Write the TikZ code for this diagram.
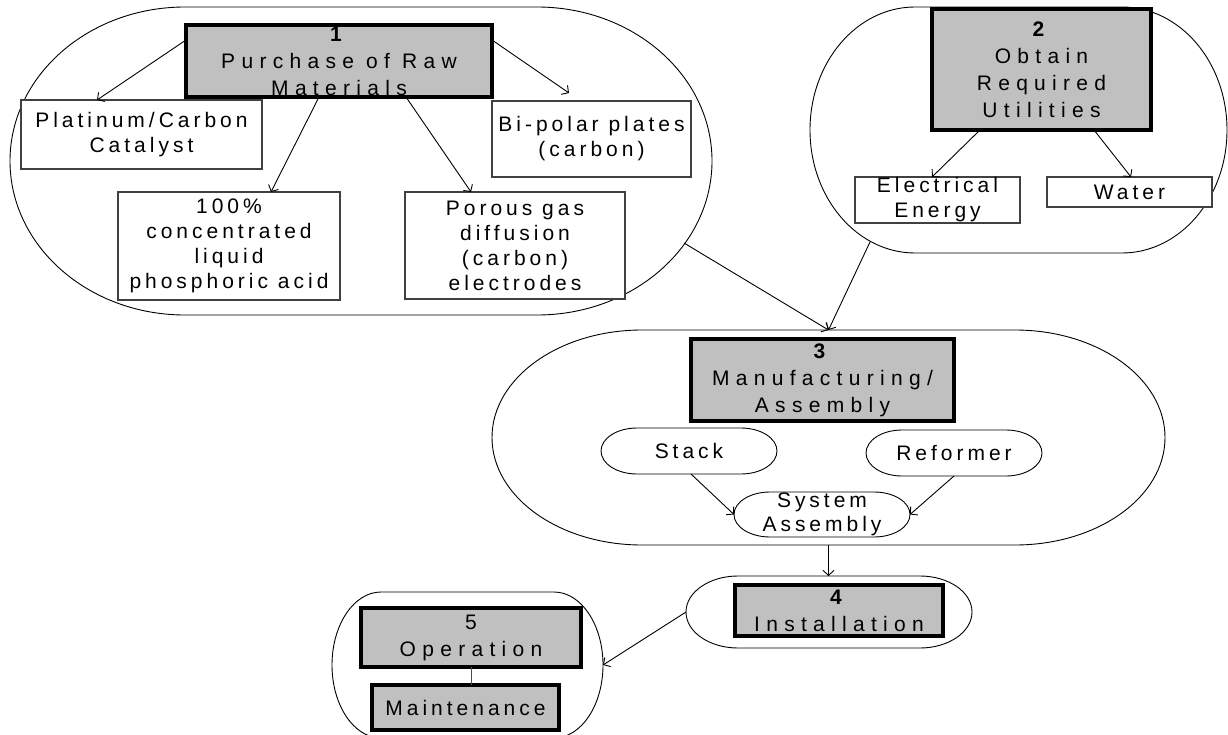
\documentclass[tikz,border=0pt]{standalone}
\usepackage{fontspec}
\setmainfont{Liberation Sans}
\newfontfamily\tracked{Liberation Sans}[LetterSpace=19]
\newfontfamily\widetracked{Liberation Sans}[LetterSpace=30]
\usetikzlibrary{arrows.meta}

\definecolor{boxgray}{HTML}{C0C0C0}

\tikzset{
  x=1pt, y=1pt,
  every node/.style={inner sep=0pt, outer sep=0pt},
  area/.style={rectangle},
  frame/.style={draw=black, line width=0.9pt},
  whitebox/.style={rectangle, draw=black!75, line width=1.2pt, fill=white,
    align=center, font=\tracked\fontsize{21}{25}\selectfont},
  graybox/.style={rectangle, draw=black, line width=4pt, fill=boxgray,
    align=center, font=\widetracked\fontsize{21}{27}\selectfont},
  pilltext/.style={rectangle, align=center, font=\tracked\fontsize{21}{24}\selectfont},
  link/.style={draw=black, line width=0.9pt, -{Straight Barb[length=5pt,width=11pt]}},
  plainlink/.style={draw=black!70, line width=1pt},
}

% outline with straight top/bottom and half-elliptic ends around a node
\newcommand\drawstadium[3]{%
  \draw[frame] ([xshift=#2pt]#1.north west) -- ([xshift=-#2pt]#1.north east)
    arc[start angle=90, end angle=-90, x radius=#2pt, y radius=#3pt]
    -- ([xshift=#2pt]#1.south west)
    arc[start angle=270, end angle=90, x radius=#2pt, y radius=#3pt] -- cycle;}

\begin{document}
\begin{tikzpicture}
\useasboundingbox (0,0) rectangle (1228,-735);

% ---- group areas ----
\node[area, minimum width=702pt, minimum height=308pt] (E1) at (361,-161) {};
\node[area, minimum width=417pt, minimum height=246pt] (E2) at (1018.5,-130) {};
\node[area, minimum width=673pt, minimum height=215pt] (E3) at (828.5,-437.5) {};
\node[area, minimum width=286pt, minimum height=72pt] (E4) at (829,-612) {};
\node[area, minimum width=271pt, minimum height=146pt] (E5) at (467.5,-665) {};
\drawstadium{E1}{175}{154}
\drawstadium{E2}{105}{123}
\drawstadium{E3}{150}{107.5}
\drawstadium{E4}{52}{36}
\drawstadium{E5}{49}{73}

% ---- 1: raw materials ----
\node[graybox, minimum width=306pt, minimum height=72pt] (B1) at (339,-61)
  {\textbf{1}\\Purchase of Raw\\Materials};
\node[whitebox, minimum width=241pt, minimum height=69pt] (Plat) at (141.5,-134.5)
  {Platinum/Carbon\\Catalyst};
\node[whitebox, minimum width=222pt, minimum height=108pt] (Acid) at (229,-246)
  {100\%\\concentrated\\liquid\\phosphoric acid};
\node[whitebox, minimum width=220pt, minimum height=107pt] (Porous) at (515,-245.5)
  {Porous gas\\diffusion\\(carbon)\\electrodes};
\node[whitebox, minimum width=199pt, minimum height=76pt] (Bipolar) at (591.5,-139)
  {Bi-polar plates\\(carbon)};

% ---- 2: utilities ----
\node[graybox, minimum width=219pt, minimum height=121pt] (B2) at (1041.5,-69.5)
  {\textbf{2}\\Obtain\\Required\\Utilities};
\node[whitebox, minimum width=165pt, minimum height=46pt] (Elec) at (937.5,-200)
  {Electrical\\Energy};
\node[whitebox, minimum width=165pt, minimum height=30pt] (Water) at (1129.5,-192)
  {Water};

% ---- 3: manufacturing ----
\node[graybox, minimum width=263pt, minimum height=82pt] (B3) at (822.5,-380)
  {\textbf{3}\\Manufacturing/\\Assembly};
\node[pilltext, minimum width=176pt, minimum height=46pt] (Stack) at (689,-451) {Stack};
\node[pilltext, minimum width=176pt, minimum height=46pt] (Reformer) at (954,-453) {Reformer};
\node[pilltext, minimum width=176pt, minimum height=45pt] (System) at (822,-514.5)
  {System\\Assembly};
\drawstadium{Stack}{36}{23}
\drawstadium{Reformer}{36}{23}
\drawstadium{System}{36}{22.5}

% ---- 4: installation ----
\node[graybox, minimum width=208pt, minimum height=51pt] (B4) at (839,-610.5)
  {\textbf{4}\\Installation};

% ---- 5: operation ----
\node[graybox, minimum width=220pt, minimum height=59pt] (B5) at (471,-637.5)
  {5\\Operation};
\node[graybox, font=\tracked\fontsize{21}{25}\selectfont,
  minimum width=187pt, minimum height=45pt] (Maint) at (465.5,-707.5) {Maintenance};

% ---- connectors ----
\draw[link] ([yshift=21pt]B1.west) -- ([xshift=-44.5pt]Plat.north);
\draw[link] ([xshift=-20pt]B1.south) -- ([xshift=42pt]Acid.north);
\draw[link] ([xshift=67pt]B1.south) -- ([xshift=-44pt]Porous.north);
\draw[link] ([yshift=21pt]B1.east) -- ([xshift=-22.5pt,yshift=8pt]Bipolar.north);

\draw[link] ([xshift=-61.5pt]B2.south) -- ([xshift=-5.5pt]Elec.north);
\draw[link] ([xshift=52.5pt]B2.south) -- ([xshift=1.5pt]Water.north);

\coordinate (E1out) at (684,-243);
\coordinate (E2out) at (870,-242);
\draw[link] (E1out) -- (E3.north);
\draw[link] (E2out) -- (E3.north);

\draw[link] ([xshift=2pt]Stack.south) -- (System.west);
\draw[link] (Reformer.south) -- (System.east);

\draw[link] (E3.south) -- (E3.south |- E4.north);
\draw[link] (E4.west) -- (E5.east);
\draw[plainlink] (B5.south) -- (B5.south |- Maint.north);
\end{tikzpicture}
\end{document}
